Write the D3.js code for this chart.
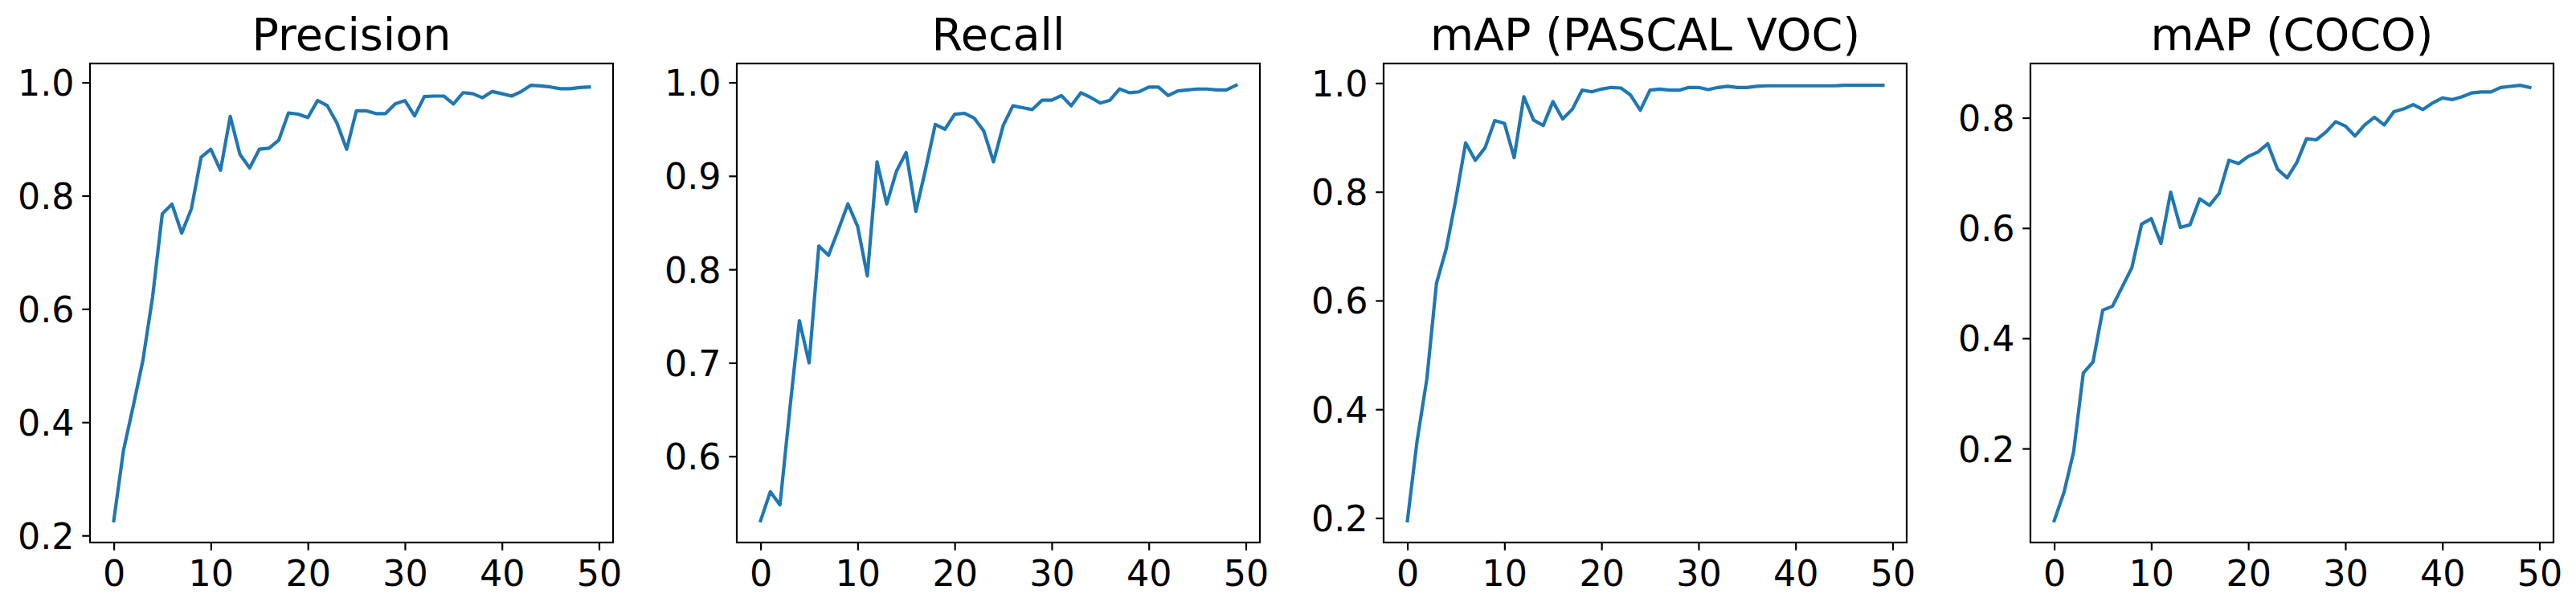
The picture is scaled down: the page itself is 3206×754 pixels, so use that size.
<!DOCTYPE html>
<html>
<head>
<meta charset="utf-8">
<script src="https://cdn.jsdelivr.net/npm/d3@7"></script>
<style>
  body { margin: 0; background: #fff; }
  text { font-family: "DejaVu Sans", sans-serif; fill: #000; }
</style>
</head>
<body>
<svg id="chart"></svg>
<script>
var width = 3206;
var height = 754;

// metric values per epoch (0..49)
var precision = [0.226, 0.350, 0.428, 0.509, 0.621, 0.768, 0.785, 0.734, 0.777, 0.868,
                 0.882, 0.845, 0.940, 0.873, 0.849, 0.882, 0.884, 0.898, 0.946, 0.944,
                 0.938, 0.968, 0.959, 0.928, 0.882, 0.950, 0.950, 0.945, 0.945, 0.962,
                 0.968, 0.941, 0.975, 0.976, 0.976, 0.962, 0.982, 0.980, 0.973, 0.984,
                 0.980, 0.976, 0.984, 0.995, 0.994, 0.992, 0.989, 0.989, 0.991, 0.992];

var recall = [0.531, 0.562, 0.548, 0.649, 0.745, 0.700, 0.825, 0.815, 0.842, 0.870,
              0.846, 0.793, 0.915, 0.870, 0.905, 0.925, 0.862, 0.907, 0.955, 0.950,
              0.966, 0.967, 0.962, 0.948, 0.915, 0.954, 0.975, 0.973, 0.971, 0.981,
              0.981, 0.986, 0.975, 0.989, 0.984, 0.978, 0.981, 0.993, 0.989, 0.990,
              0.995, 0.995, 0.986, 0.991, 0.992, 0.993, 0.993, 0.992, 0.992, 0.997];

var mapVoc = [0.195, 0.342, 0.455, 0.632, 0.695, 0.787, 0.890, 0.858, 0.881, 0.931,
              0.926, 0.863, 0.975, 0.932, 0.922, 0.966, 0.934, 0.952, 0.987, 0.984,
              0.989, 0.992, 0.991, 0.978, 0.950, 0.987, 0.989, 0.987, 0.987, 0.992,
              0.992, 0.988, 0.992, 0.994, 0.992, 0.992, 0.994, 0.995, 0.995, 0.995,
              0.995, 0.995, 0.995, 0.995, 0.995, 0.996, 0.996, 0.996, 0.996, 0.996];

var mapCoco = [0.069, 0.120, 0.194, 0.337, 0.357, 0.451, 0.458, 0.493, 0.528, 0.607,
               0.617, 0.572, 0.665, 0.601, 0.606, 0.653, 0.641, 0.663, 0.723, 0.717,
               0.730, 0.738, 0.753, 0.707, 0.691, 0.719, 0.762, 0.760, 0.774, 0.793,
               0.785, 0.767, 0.787, 0.801, 0.787, 0.811, 0.816, 0.824, 0.815, 0.827,
               0.836, 0.833, 0.838, 0.845, 0.847, 0.847, 0.855, 0.857, 0.859, 0.855];

var titles = ['Precision', 'Recall', 'mAP (PASCAL VOC)', 'mAP (COCO)'];
var series = [precision, recall, mapVoc, mapCoco];
var xTicks = [0, 10, 20, 30, 40, 50];
var yTicks = [
    [0.2, 0.4, 0.6, 0.8, 1.0],
    [0.6, 0.7, 0.8, 0.9, 1.0],
    [0.2, 0.4, 0.6, 0.8, 1.0],
    [0.2, 0.4, 0.6, 0.8]
];

// layout (matplotlib at 200 dpi: 16pt ticks, 20pt title)
var panelLefts = [112, 917, 1722, 2527];
var plotW = 651;
var plotH = 596;
var plotTop = 79;
var tickLen = 9.7;
var tickPad = 9.7;
var lineColor = '#1f77b4';

var svg = d3.select('#chart')
    .attr('width', width)
    .attr('height', height);

series.forEach(function(values, k) {
    var g = svg.append('g')
        .attr('transform', `translate(${panelLefts[k]}, ${plotTop})`);

    // matplotlib-style 5% auto margins
    var n = values.length - 1;
    var ext = d3.extent(values);
    var m = (ext[1] - ext[0]) * 0.05;

    var x = d3.scaleLinear()
        .domain([-n * 0.05, n * 1.05])
        .range([0, plotW]);
    var y = d3.scaleLinear()
        .domain([ext[0] - m, ext[1] + m])
        .range([plotH, 0]);

    var xAxis = g.append('g')
        .attr('transform', `translate(0, ${plotH})`)
        .call(d3.axisBottom(x)
            .tickValues(xTicks)
            .tickFormat(d3.format('d'))
            .tickSize(tickLen)
            .tickPadding(tickPad)
            .tickSizeOuter(0));

    var yAxis = g.append('g')
        .call(d3.axisLeft(y)
            .tickValues(yTicks[k])
            .tickFormat(d3.format('.1f'))
            .tickSize(tickLen)
            .tickPadding(tickPad)
            .tickSizeOuter(0));

    [xAxis, yAxis].forEach(function(a) {
        a.select('.domain').remove();
        a.selectAll('.tick line')
            .attr('stroke', '#000')
            .attr('stroke-width', 2.2);
        a.selectAll('.tick text')
            .style('font-family', '"DejaVu Sans", sans-serif')
            .style('font-size', '44.4px')
            .attr('fill', '#000');
    });
    xAxis.selectAll('.tick text').attr('dy', '0.78em');
    yAxis.selectAll('.tick text').attr('dy', '0.36em');

    var line = d3.line()
        .x((d, i) => x(i))
        .y(d => y(d));

    g.append('path')
        .datum(values)
        .attr('fill', 'none')
        .attr('stroke', lineColor)
        .attr('stroke-width', 4.2)
        .attr('stroke-linejoin', 'round')
        .attr('stroke-linecap', 'square')
        .attr('d', line);

    // frame (spines)
    g.append('rect')
        .attr('width', plotW)
        .attr('height', plotH)
        .attr('fill', 'none')
        .attr('stroke', '#000')
        .attr('stroke-width', 2.2);

    g.append('text')
        .attr('x', plotW / 2)
        .attr('y', -16.7)
        .attr('text-anchor', 'middle')
        .style('font-size', '55.6px')
        .text(titles[k]);
});
</script>
</body>
</html>
